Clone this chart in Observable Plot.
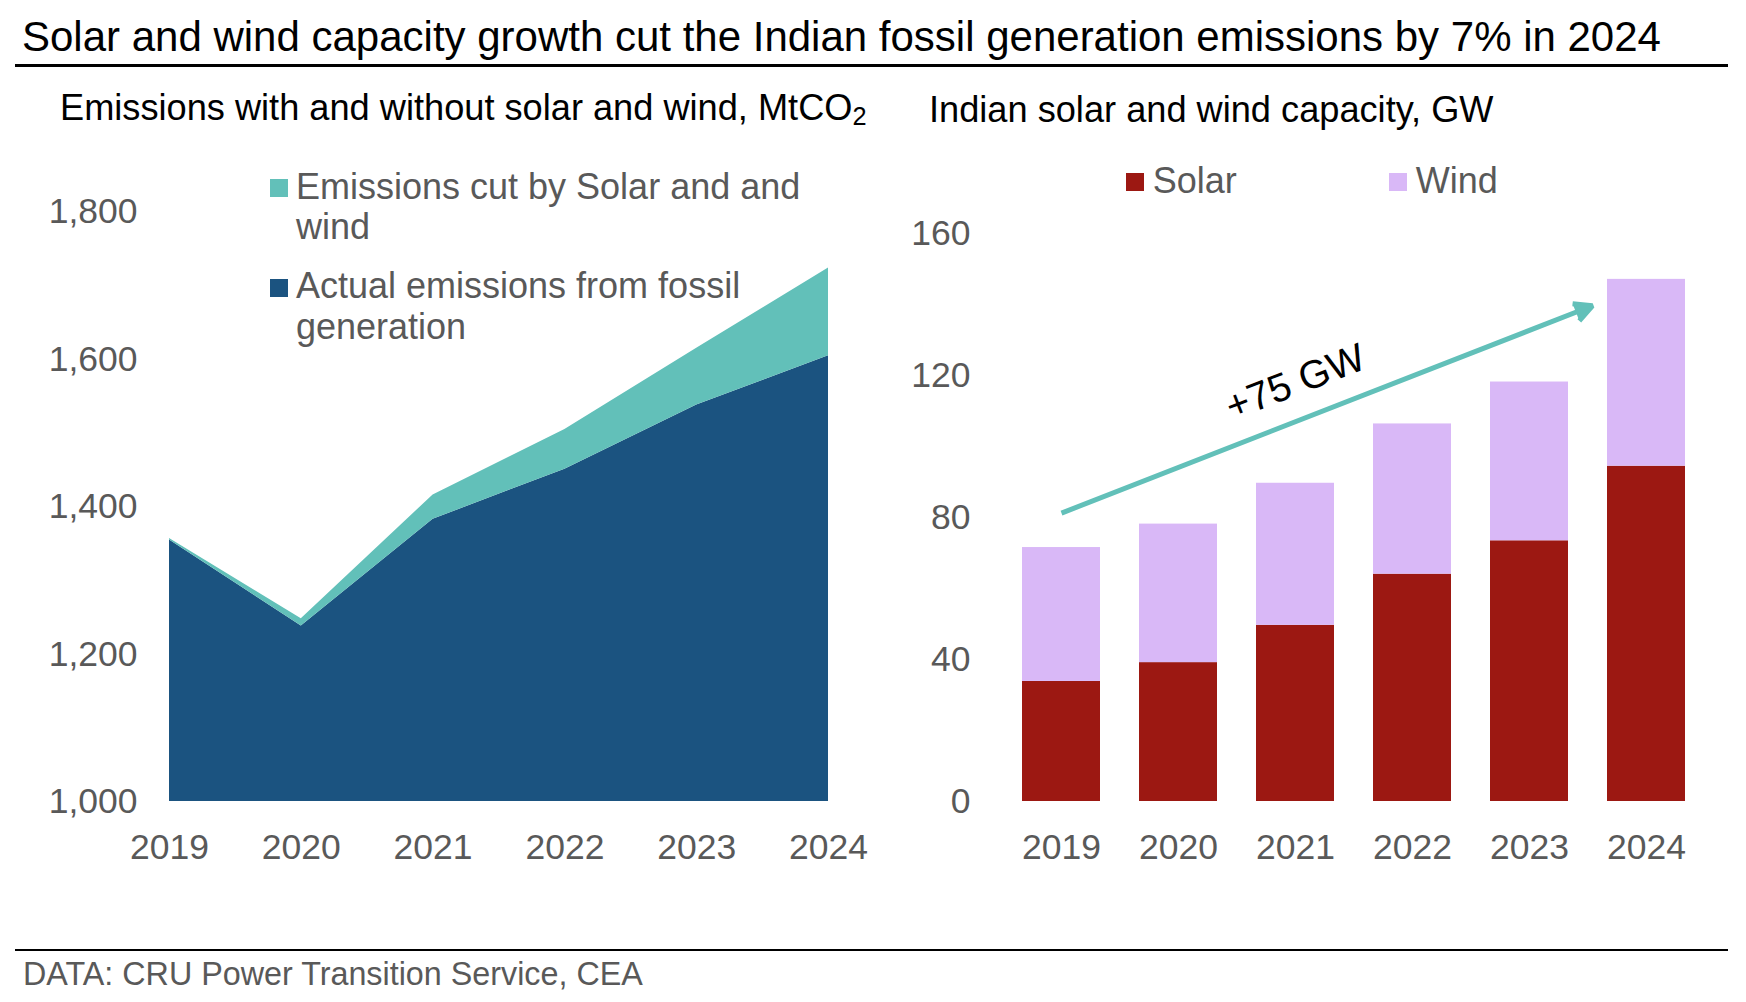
<!DOCTYPE html>
<html>
<head>
<meta charset="utf-8">
<script src="https://cdn.jsdelivr.net/npm/d3@7"></script>
<script src="https://cdn.jsdelivr.net/npm/@observablehq/plot@0.6"></script>
<style>
  html, body { margin: 0; padding: 0; background: #fff; }
  body { width: 1746px; height: 1002px; position: relative; overflow: hidden;
         font-family: "Liberation Sans", Arial, sans-serif; }
  .abs { position: absolute; white-space: nowrap; }
  .title { left: 22px; top: 16.45px; font-size: 42px; line-height: 42px; color: #000; }
  .rule { position: absolute; left: 15px; width: 1713px; background: #000; }
  .sub { font-size: 36.2px; line-height: 36.2px; color: #000; }
  .sub small { font-size: 0.7em; position: relative; top: 0.2em; }
  .leg { font-size: 36px; line-height: 40.5px; color: #595959; }
  .leg1 { font-size: 36px; line-height: 36px; color: #595959; }
  .sq { position: absolute; width: 18px; height: 18px; }
  .caption { left: 23px; top: 957.7px; font-size: 32.3px; line-height: 32.3px; color: #595959; }
  #left, #right { position: absolute; top: 150px; }
  #left { left: 0; }
  #right { left: 880px; }
</style>
</head>
<body>
<div id="left"></div>
<div id="right"></div>

<div class="abs title">Solar and wind capacity growth cut the Indian fossil generation emissions by 7% in 2024</div>
<div class="rule" style="top:63.5px;height:3px;"></div>

<div class="abs sub" style="left:60px;top:90.4px;">Emissions with and without solar and wind, MtCO<small>2</small></div>
<div class="abs sub" style="left:929px;top:92.4px;">Indian solar and wind capacity, GW</div>

<div class="sq" id="sqCut" style="left:270px;top:179px;"></div>
<div class="abs leg" id="legCut" style="left:296px;top:166.6px;"></div>
<div class="sq" id="sqActual" style="left:270px;top:279px;"></div>
<div class="abs leg" id="legActual" style="left:296px;top:266.3px;"></div>

<div class="sq" id="sqSolar" style="left:1126px;top:173.3px;"></div>
<div class="abs leg1" id="legSolar" style="left:1152.7px;top:162.8px;"></div>
<div class="sq" id="sqWind" style="left:1389px;top:173.3px;"></div>
<div class="abs leg1" id="legWind" style="left:1415.7px;top:162.8px;"></div>

<div class="rule" style="top:949px;height:2px;"></div>
<div class="abs caption">DATA: CRU Power Transition Service, CEA</div>

<script>
// ---------- Data: left chart (MtCO2) ----------
const emissionYears = [2019, 2020, 2021, 2022, 2023, 2024];
const actualEmissions = [1355, 1238, 1383, 1451, 1538, 1605];
const emissionsCut = [2, 10, 33, 54, 77, 119];
const emissionTicks = [1000, 1200, 1400, 1600, 1800];
const emissionSeries = ["Actual emissions from fossil generation", "Emissions cut by Solar and and wind"];

// ---------- Data: right chart (GW) ----------
const capacityYears = ["2019", "2020", "2021", "2022", "2023", "2024"];
const solarGW = [33.8, 39.1, 49.6, 64.0, 73.4, 94.4];
const windGW = [37.7, 39.0, 40.0, 42.3, 44.7, 52.6];
const capacityTicks = [0, 40, 80, 120, 160];
const capacitySeries = ["Solar", "Wind"];

// ---------- Annotation ----------
const arrowStart = ["2019", 81.2];
const arrowEnd = ["2024", 145.5];
const arrowLabel = ["2021", 118, "+75 GW"];

// ---------- Colours ----------
const navy = "#1b5380";
const teal = "#62c0b9";
const solarRed = "#9c1812";
const windLilac = "#d9b8f7";
const grey = "#595959";
const font = "'Liberation Sans', Arial, sans-serif";

// legends
document.getElementById("sqCut").style.background = teal;
document.getElementById("sqActual").style.background = navy;
document.getElementById("sqSolar").style.background = solarRed;
document.getElementById("sqWind").style.background = windLilac;
document.getElementById("legCut").innerHTML = "Emissions cut by Solar and and<br>wind";
document.getElementById("legActual").innerHTML = "Actual emissions from fossil<br>generation";
document.getElementById("legSolar").textContent = capacitySeries[0];
document.getElementById("legWind").textContent = capacitySeries[1];

// ---------- Left chart ----------
const emData = [];
emissionYears.forEach((y, i) => emData.push({year: y, series: emissionSeries[0], value: actualEmissions[i]}));
emissionYears.forEach((y, i) => emData.push({year: y, series: emissionSeries[1], value: emissionsCut[i]}));

const left = Plot.plot({
  width: 880,
  height: 720,
  marginLeft: 169,
  marginRight: 52,
  marginTop: 61.5,
  marginBottom: 69,
  style: {background: "none", color: grey, fontFamily: font, fontSize: "35.5px", overflow: "visible"},
  x: {domain: [emissionYears[0], emissionYears[emissionYears.length - 1]], label: null},
  y: {domain: [emissionTicks[0], emissionTicks[emissionTicks.length - 1]], label: null},
  color: {domain: emissionSeries, range: [navy, teal]},
  marks: [
    Plot.areaY(emData, {x: "year", y: "value", fill: "series", z: "series", order: emissionSeries, clip: true}),
    Plot.axisX({ticks: emissionYears, tickFormat: d => String(d), tickSize: 0, tickPadding: 32.5, fontSize: 35.5, label: null}),
    Plot.axisY({ticks: emissionTicks, tickFormat: d3.format(","), tickSize: 0, tickPadding: 32, label: null})
  ]
});
document.getElementById("left").appendChild(left);

// ---------- Right chart ----------
const capData = [];
capacityYears.forEach((y, i) => capData.push({year: y, series: capacitySeries[0], gw: solarGW[i]}));
capacityYears.forEach((y, i) => capData.push({year: y, series: capacitySeries[1], gw: windGW[i]}));

const right = Plot.plot({
  width: 866,
  height: 720,
  marginLeft: 103,
  marginRight: 22,
  marginTop: 82.7,
  marginBottom: 69,
  style: {background: "none", color: grey, fontFamily: font, fontSize: "35.5px", overflow: "visible"},
  x: {domain: capacityYears, padding: 0.333, label: null},
  y: {domain: [capacityTicks[0], capacityTicks[capacityTicks.length - 1]], label: null},
  color: {domain: capacitySeries, range: [solarRed, windLilac]},
  marks: [
    Plot.barY(capData, {x: "year", y: "gw", fill: "series", order: capacitySeries}),
    Plot.arrow([{x1: arrowStart[0], y1: arrowStart[1], x2: arrowEnd[0], y2: arrowEnd[1]}], {
      x1: "x1", y1: "y1", x2: "x2", y2: "y2",
      stroke: teal, fill: teal, strokeWidth: 5, strokeLinecap: "butt",
      headLength: 6, headAngle: 55, insetEnd: 58
    }),
    Plot.text([{year: arrowLabel[0], gw: arrowLabel[1], t: arrowLabel[2]}], {
      x: "year", y: "gw", text: "t", rotate: -21.2, fontSize: 39.5, fill: "#000"
    }),
    Plot.axisX({tickSize: 0, tickPadding: 32.5, fontSize: 35.5, label: null}),
    Plot.axisY({ticks: capacityTicks, tickSize: 0, tickPadding: 13, label: null})
  ]
});
document.getElementById("right").appendChild(right);
</script>
</body>
</html>
